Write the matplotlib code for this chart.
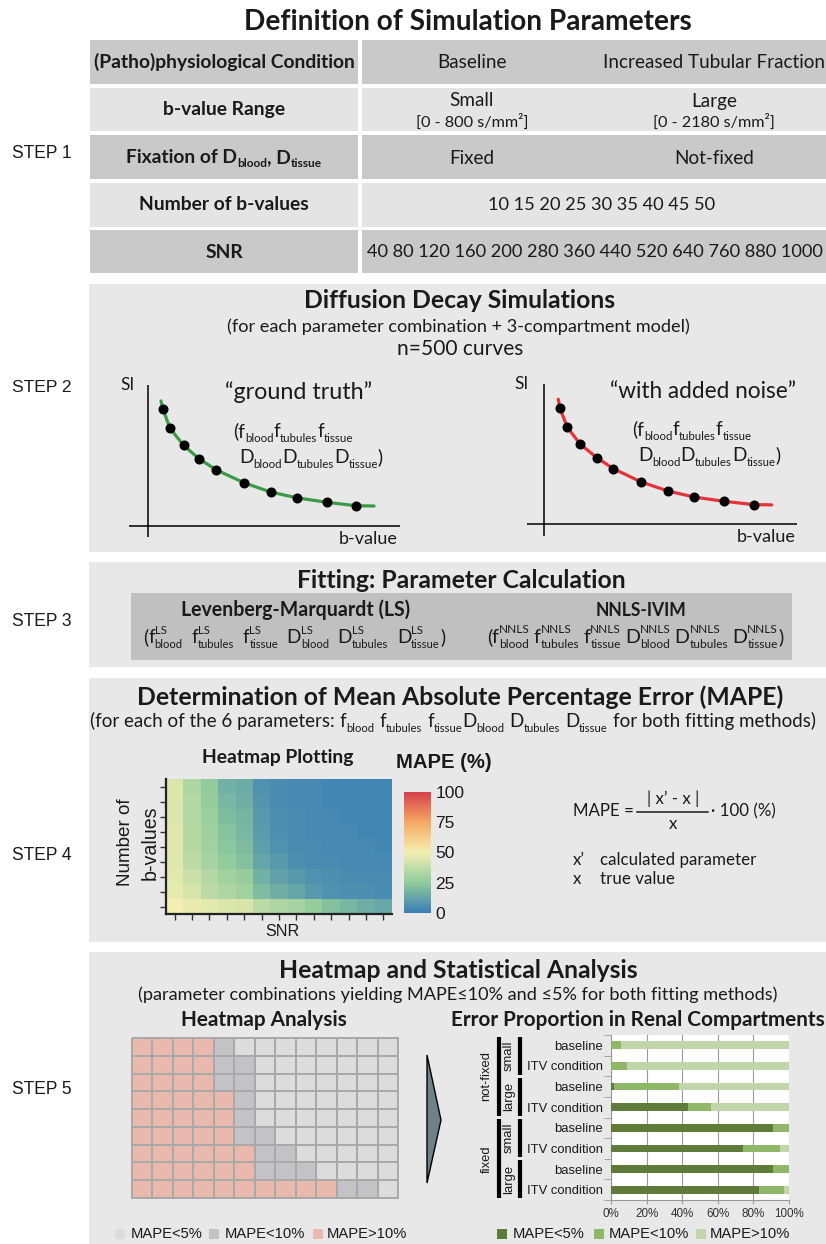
import matplotlib
matplotlib.use("Agg")
import matplotlib.pyplot as plt
import matplotlib.patches as mpatches
import matplotlib.transforms as mtransforms
from matplotlib.colors import LinearSegmentedColormap, ListedColormap
import numpy as np

plt.rcParams['font.family'] = ['Lato', 'DejaVu Sans']

# ------------------------------------------------------------------ data
conditions = ['Baseline', 'Increased Tubular Fraction']
bvalue_ranges = ['Small', 'Large']
bvalue_limits = ['[0 - 800 s/mm²]', '[0 - 2180 s/mm²]']
fixations = ['Fixed', 'Not-fixed']
n_bvalues = [10, 15, 20, 25, 30, 35, 40, 45, 50]
snr_values = [40, 80, 120, 160, 200, 280, 360, 440, 520, 640, 760, 880, 1000]

# decay curves (arbitrary units)
gt_b = [6.0, 8.8, 14.2, 20.4, 27.2, 38.4, 49.0, 59.4, 71.4, 83.2]
gt_si = [93.4, 78.2, 64.6, 53.8, 45.0, 34.6, 27.2, 22.6, 19.0, 16.2]
gt_curve_b = [5.2] + gt_b + [90.4]
gt_curve_si = [100.0] + gt_si + [16.0]
noisy_b = [6.3, 9.2, 14.4, 21.0, 27.6, 38.8, 49.5, 59.8, 71.8, 83.8]
noisy_si = [92.8, 77.6, 64.0, 53.3, 44.5, 33.8, 26.6, 21.8, 18.4, 15.7]
noisy_curve_b = [5.6] + noisy_b + [91.0]
noisy_curve_si = [100.0] + noisy_si + [15.5]

params = [('f', 'blood'), ('f', 'tubules'), ('f', 'tissue'),
          ('D', 'blood'), ('D', 'tubules'), ('D', 'tissue')]

# example MAPE heatmap (%), rows = number of b-values 10..50, cols = SNR
mape_b10 = [50, 48, 46, 44, 43, 36, 33, 31, 27, 22, 19, 16, 14]
mape_b15 = [47, 43, 36, 33, 30, 21, 16, 13, 9, 7, 6, 6, 5]
mape_b20 = [46, 40, 34, 30, 27, 17, 12, 9, 7, 6, 5, 5, 5]
mape_b25 = [45, 36, 31, 26, 22, 13, 9, 6, 5, 5, 4, 4, 4]
mape_b30 = [45, 35, 30, 24, 20, 11, 7, 5, 5, 4, 4, 4, 3]
mape_b35 = [45, 35, 29, 23, 19, 10, 6, 5, 4, 4, 4, 3, 3]
mape_b40 = [44, 34, 28, 21, 18, 9, 6, 5, 4, 4, 3, 3, 3]
mape_b45 = [44, 34, 27, 19, 16, 8, 5, 4, 4, 3, 3, 3, 3]
mape_b50 = [44, 33, 26, 17, 15, 7, 5, 4, 4, 3, 3, 3, 3]

# heatmap analysis classes (0: MAPE<5%, 1: MAPE<10%, 2: MAPE>10%), rows top (50) -> bottom (10)
class_labels = ['MAPE<5%', 'MAPE<10%', 'MAPE>10%']
cls_b50 = [2, 2, 2, 2, 1, 0, 0, 0, 0, 0, 0, 0, 0]
cls_b45 = [2, 2, 2, 2, 1, 1, 0, 0, 0, 0, 0, 0, 0]
cls_b40 = [2, 2, 2, 2, 1, 1, 0, 0, 0, 0, 0, 0, 0]
cls_b35 = [2, 2, 2, 2, 2, 1, 0, 0, 0, 0, 0, 0, 0]
cls_b30 = [2, 2, 2, 2, 2, 1, 0, 0, 0, 0, 0, 0, 0]
cls_b25 = [2, 2, 2, 2, 2, 1, 1, 0, 0, 0, 0, 0, 0]
cls_b20 = [2, 2, 2, 2, 2, 2, 1, 1, 0, 0, 0, 0, 0]
cls_b15 = [2, 2, 2, 2, 2, 2, 1, 1, 1, 0, 0, 0, 0]
cls_b10 = [2, 2, 2, 2, 2, 2, 2, 2, 2, 2, 1, 1, 0]

# error proportion bar chart (%)
bar_labels = ['baseline', 'ITV condition'] * 4
pct_lt5 = [0.0, 0.0, 1.9, 43.0, 91.0, 74.0, 91.0, 83.0]
pct_lt10 = [5.8, 9.0, 36.1, 13.0, 9.0, 21.0, 9.0, 14.0]
pct_gt10 = [94.2, 91.0, 62.0, 44.0, 0.0, 5.0, 0.0, 3.0]
outer_groups = [('not-fixed', 0, 3), ('fixed', 4, 7)]
inner_groups = [('small', 0, 1), ('large', 2, 3), ('small', 4, 5), ('large', 6, 7)]

# ------------------------------------------------------------------ style
W, H = 826, 1244
TXT = '#1a1a1a'
BOX = '#e8e8e8'
DARK_ROW = '#c9c9c9'
LIGHT_ROW = '#e4e4e4'
INNER = '#c0c0c0'
GRID_COLORS = ['#dcdcdc', '#c3c3c7', '#e9b9ad']
BAR_COLORS = ['#5e7b3a', '#8eb767', '#c0d6aa']
ARIAL = ['Liberation Sans', 'DejaVu Sans']
LATO = ['Lato', 'DejaVu Sans']
PT2PX = 100 / 72

fig = plt.figure(figsize=(W / 100, H / 100), dpi=100)
fig.patch.set_facecolor('white')
bg = fig.add_axes([0, 0, 1, 1])
bg.set_xlim(0, W)
bg.set_ylim(H, 0)
bg.axis('off')
renderer = fig.canvas.get_renderer()


def box(x0, y0, x1, y1, color):
    bg.add_patch(mpatches.Rectangle((x0, y0), x1 - x0, y1 - y0, facecolor=color,
                                    edgecolor='none', zorder=0))


def px_axes(x0, y0, x1, y1):
    return fig.add_axes([x0 / W, 1 - y1 / H, (x1 - x0) / W, (y1 - y0) / H])


def T(x, y, s, size=12, ha='center', va='center', weight='normal', family=None,
      width=None, color=TXT, rotation=0):
    t = bg.text(x, y, s, fontsize=size, ha=ha, va=va, fontweight=weight, color=color,
                rotation=rotation, family=family or LATO)
    if width is not None:
        bb = t.get_window_extent(renderer)
        ext = bb.height if rotation in (90, 270) else bb.width
        t.set_fontsize(size * width / ext)
    return t


def measure(s, size, weight, family):
    t = bg.text(0, 0, s, fontsize=size, fontweight=weight, family=family)
    w = t.get_window_extent(renderer).width
    t.remove()
    return w


def rich(x, base_y, pieces, size, ha='left', weight='normal', family=None, width=None,
         subscale=0.6, sub_dy=0.24, sup_dy=0.45, color=TXT, sub_weight=None):
    fam = family or LATO
    sw = sub_weight or weight

    def run(sz, x0, draw):
        em = sz * PT2PX
        ssz = sz * subscale
        cur = 0.0
        for p in pieces:
            kind = p[0]
            if kind == 'g':
                cur += p[1] * em
            elif kind == 't':
                if draw:
                    bg.text(x0 + cur, base_y, p[1], fontsize=sz, fontweight=weight,
                            family=fam, ha='left', va='baseline', color=color)
                cur += measure(p[1], sz, weight, fam)
            elif kind == 'sub':
                if draw:
                    bg.text(x0 + cur, base_y + sub_dy * em, p[1], fontsize=ssz,
                            fontweight=sw, family=fam, ha='left', va='baseline', color=color)
                cur += measure(p[1], ssz, sw, fam)
            elif kind == 'ss':
                if draw:
                    bg.text(x0 + cur, base_y - sup_dy * em, p[1], fontsize=ssz,
                            fontweight=sw, family=fam, ha='left', va='baseline', color=color)
                    bg.text(x0 + cur, base_y + sub_dy * em, p[2], fontsize=ssz,
                            fontweight=sw, family=fam, ha='left', va='baseline', color=color)
                cur += max(measure(p[1], ssz, sw, fam), measure(p[2], ssz, sw, fam))
        return cur

    total = run(size, 0, False)
    if width is not None:
        size = size * width / total
        total = run(size, 0, False)
    x0 = x - total / 2 if ha == 'center' else x
    run(size, x0, True)
    return size


# ------------------------------------------------------------------ step labels
for i, y in enumerate([154, 388, 622, 855, 1090]):
    T(12, y, f'STEP {i + 1}', size=12, ha='left', family=ARIAL, width=60)

# ------------------------------------------------------------------ section titles
T(468, 22, 'Definition of Simulation Parameters', size=16, weight='bold', width=450)
TITLE = T(460, 697, 'Determination of Mean Absolute Percentage Error (MAPE)', size=16,
          weight='bold', width=650).get_fontsize()

# ------------------------------------------------------------------ STEP 1 table
rows = [(40, 84), (88, 131), (135, 179), (183, 227), (230, 273)]
for k, (y0, y1) in enumerate(rows):
    c = DARK_ROW if k % 2 == 0 else LIGHT_ROW
    box(90, y0, 358, y1, c)
    box(362, y0, 826, y1, c)

TS = T(224, 62, '(Patho)physiological Condition', size=12.5, weight='bold',
       width=262).get_fontsize()
T(224, 109, 'b-value Range', size=TS, weight='bold')
rich(224, 163, [('t', 'Fixation of D'), ('sub', 'blood'), ('t', ', D'), ('sub', 'tissue')],
     size=TS, ha='center', weight='bold', subscale=0.62, sub_dy=0.2)
T(224, 205, 'Number of b-values', size=TS, weight='bold')
T(224, 252, 'SNR', size=TS, weight='bold')

col_x = [472, 714]
VS = T(col_x[1], 62, conditions[1], size=12.5, width=222).get_fontsize()
T(col_x[0], 62, conditions[0], size=VS)
BS = T(col_x[1], 122, bvalue_limits[1], size=10, width=122).get_fontsize()
T(col_x[0], 122, bvalue_limits[0], size=BS)
for i in range(2):
    T(col_x[i], 101, bvalue_ranges[i], size=VS)
    T(col_x[i], 158, fixations[i], size=VS)
T(602, 205, ' '.join(str(v) for v in n_bvalues), size=VS, width=229)
T(595, 252, ' '.join(str(v) for v in snr_values), size=VS, width=460)

# ------------------------------------------------------------------ STEP 2
box(89, 284, 826, 552, BOX)
T(460, 300, 'Diffusion Decay Simulations', size=TITLE, weight='bold')
SUB = T(458, 327, '(for each parameter combination + 3-compartment model)', size=10,
        width=466).get_fontsize()
T(460, 349, 'n=500 curves', size=13, width=126)

f_pieces = [('t', '(f'), ('sub', 'blood'), ('t', 'f'), ('sub', 'tubules'),
            ('t', 'f'), ('sub', 'tissue')]
d_pieces = [('t', 'D'), ('sub', 'blood'), ('t', 'D'), ('sub', 'tubules'),
            ('t', 'D'), ('sub', 'tissue'), ('t', ')')]

panels = [
    dict(ax=(129, 385, 400, 537), xlim=(-7.6, 100.8), ylim=(-8.8, 112.8),
         cb=gt_curve_b, cs=gt_curve_si, pb=gt_b, ps=gt_si, color='#3a9a47',
         title='\u201cground truth\u201d', tx=299, tw=148, fx=233, dx=239, dw=143,
         fy=437, dy=463, si=(128, 385), bv=(368, 539)),
    dict(ax=(527, 384, 797, 536), xlim=(-6.9, 101.1), ylim=(-9.4, 112.2),
         cb=noisy_curve_b, cs=noisy_curve_si, pb=noisy_b, ps=noisy_si, color='#e3343a',
         title='\u201cwith added noise\u201d', tx=703, tw=187, fx=632, dx=638, dw=142,
         fy=435, dy=461, si=(522, 384), bv=(766, 537)),
]
for p in panels:
    ax = px_axes(*p['ax'])
    ax.set_facecolor('none')
    ax.set_xlim(*p['xlim'])
    ax.set_ylim(*p['ylim'])
    ax.axis('off')
    ax.axhline(0, color='black', lw=1.1)
    ax.axvline(0, color='black', lw=1.1)
    ax.plot(p['cb'], p['cs'], color=p['color'], lw=2.3, solid_capstyle='round')
    ax.plot(p['pb'], p['ps'], 'o', color='black', ms=6.2)
    T(p['tx'], 392, p['title'], size=16, width=p['tw'])
    fs = rich(p['dx'], p['dy'], d_pieces, size=14, width=p['dw'])
    rich(p['fx'], p['fy'], f_pieces, size=fs)
    T(p['si'][0], p['si'][1], 'SI', size=12.5)
    T(p['bv'][0], p['bv'][1], 'b-value', size=13)

# ------------------------------------------------------------------ STEP 3
box(89, 562, 826, 667, BOX)
T(461, 580, 'Fitting: Parameter Calculation', size=TITLE, weight='bold')
box(131, 593, 792, 660, INNER)
T(296, 610, 'Levenberg-Marquardt (LS)', size=14, weight='bold', width=230)
T(641, 610, 'NNLS-IVIM', size=14, weight='bold', width=92)


def fit_pieces(sup, gap):
    out = [('t', '(')]
    for k, (p, s) in enumerate(params):
        out += [('t', p), ('ss', sup, s)]
        if k < len(params) - 1:
            out.append(('g', gap))
    out.append(('t', ')'))
    return out


rich(294, 643, fit_pieces('LS', 0.45), size=14, ha='center', width=302, sup_dy=0.5)
rich(635, 643, fit_pieces('NNLS', 0.2), size=14, ha='center', width=296, sup_dy=0.5)

# ------------------------------------------------------------------ STEP 4
box(89, 678, 826, 942, BOX)
sub4 = [('t', '(for each of the 6 parameters:'), ('g', 0.25)]
for k, (p, s) in enumerate(params):
    sub4 += [('t', p), ('sub', s)]
    if k != 2:
        sub4.append(('g', 0.25))
sub4.append(('t', 'for both fitting methods)'))
rich(453, 727, sub4, size=SUB, ha='center', width=724)
T(278, 758, 'Heatmap Plotting', size=13, weight='bold', width=152)
T(444, 763, 'MAPE (%)', size=15, weight='bold', family=ARIAL, width=96)

cmap = LinearSegmentedColormap.from_list(
    'mape', [(0.0, '#3a7db6'), (0.25, '#8fcb9c'), (0.5, '#f3efb2'),
             (0.75, '#f5a964'), (1.0, '#d6404a')])
mape = np.array([mape_b10, mape_b15, mape_b20, mape_b25, mape_b30,
                 mape_b35, mape_b40, mape_b45, mape_b50])
axh = px_axes(166, 779, 392, 914)
im = axh.imshow(mape, cmap=cmap, vmin=0, vmax=100, origin='lower', aspect='auto',
                interpolation='nearest')
axh.set_xticks(range(len(snr_values)))
axh.set_yticks(range(len(n_bvalues)))
axh.set_xticklabels([])
axh.set_yticklabels([])
axh.tick_params(length=4, width=1, color='#333333')
for s in ['top', 'right']:
    axh.spines[s].set_visible(False)
for s in ['left', 'bottom']:
    axh.spines[s].set_linewidth(1.6)
    axh.spines[s].set_color('#222222')

axc = px_axes(404, 792, 431, 913)
cb = fig.colorbar(im, cax=axc, ticks=[0, 25, 50, 75, 100])
cb.outline.set_visible(False)
axc.tick_params(length=0, pad=3, labelsize=12.5, labelcolor=TXT)
for lab in axc.get_yticklabels():
    lab.set_family(ARIAL)

T(125, 842, 'Number of', size=13, family=ARIAL, rotation=90, width=88)
T(150, 843, 'b-values', size=13, family=ARIAL, rotation=90, width=74)
T(282, 931, 'SNR', size=13, family=ARIAL, width=34)

FS = 12.2
T(573, 811, 'MAPE =', size=FS, ha='left')
T(673, 799, '| x\u2019 - x |', size=FS)
bg.plot([637, 708], [812, 812], color=TXT, lw=1.1)
T(673, 824, 'x', size=FS)
T(711, 811, '\u00b7 100 (%)', size=FS, ha='left')
T(573, 860, 'x\u2019', size=FS, ha='left')
T(600, 860, 'calculated parameter', size=FS, ha='left')
T(573, 879, 'x', size=FS, ha='left')
T(600, 879, 'true value', size=FS, ha='left')

# ------------------------------------------------------------------ STEP 5
box(89, 952, 826, 1244, BOX)
T(458, 970, 'Heatmap and Statistical Analysis', size=TITLE, weight='bold')
T(458, 995, '(parameter combinations yielding MAPE\u226410% and \u22645% for both fitting methods)',
  size=SUB)
ES = T(638, 1020, 'Error Proportion in Renal Compartments', size=13, weight='bold',
       width=374).get_fontsize()
T(264, 1020, 'Heatmap Analysis', size=ES, weight='bold')

classes = np.array([cls_b50, cls_b45, cls_b40, cls_b35, cls_b30,
                    cls_b25, cls_b20, cls_b15, cls_b10])
axg = px_axes(132, 1038, 398, 1198)
pcm = axg.pcolormesh(classes, cmap=ListedColormap(GRID_COLORS), vmin=-0.5, vmax=2.5,
                     edgecolors='#a9a9a9', linewidth=1.2)
pcm.set_clip_on(False)
axg.set_xlim(0, classes.shape[1])
axg.set_ylim(classes.shape[0], 0)
axg.axis('off')

bg.add_patch(mpatches.Polygon([(427, 1055), (441, 1120), (427, 1183)], closed=True,
                              facecolor='#6f8189', edgecolor='black', lw=1.0))

axb = px_axes(611, 1035, 789, 1200)
ypos = np.arange(len(bar_labels))
left3 = [a + b for a, b in zip(pct_lt5, pct_lt10)]
axb.barh(ypos, pct_lt5, height=0.38, color=BAR_COLORS[0], zorder=3)
axb.barh(ypos, pct_lt10, left=pct_lt5, height=0.38, color=BAR_COLORS[1], zorder=3)
axb.barh(ypos, pct_gt10, left=left3, height=0.38, color=BAR_COLORS[2], zorder=3)
axb.set_xlim(0, 100)
axb.set_ylim(len(bar_labels) - 0.5, -0.5)
axb.set_xticks([0, 20, 40, 60, 80, 100])
axb.set_xticklabels(['0%', '20%', '40%', '60%', '80%', '100%'], family=ARIAL,
                    fontsize=8.4, color='#333333')
axb.set_yticks(ypos)
axb.set_yticklabels(bar_labels, family=ARIAL, fontsize=9.4, color=TXT)
axb.set_yticks(np.arange(len(bar_labels) + 1) - 0.5, minor=True)
axb.tick_params(axis='y', which='major', length=0, pad=6)
axb.tick_params(axis='y', which='minor', length=5, color='#999999')
axb.tick_params(axis='x', length=3, color='#999999', pad=3)
axb.grid(axis='x', color='#9a9a9a', lw=0.8, zorder=0)
for s in ['top', 'right']:
    axb.spines[s].set_visible(False)
for s in ['left', 'bottom']:
    axb.spines[s].set_color('#999999')
    axb.spines[s].set_linewidth(0.8)

tr = mtransforms.blended_transform_factory(axb.transAxes, axb.transData)
for name, a, b in outer_groups:
    axb.plot([-0.629, -0.629], [a - 0.42, b + 0.42], transform=tr, color='black',
             lw=3.0, solid_capstyle='butt', clip_on=False)
    axb.text(-0.70, (a + b) / 2, name, transform=tr, rotation=90, ha='center',
             va='center', family=ARIAL, fontsize=9.4, color=TXT)
for name, a, b in inner_groups:
    axb.plot([-0.511, -0.511], [a - 0.42, b + 0.42], transform=tr, color='black',
             lw=3.0, solid_capstyle='butt', clip_on=False)
    axb.text(-0.573, (a + b) / 2, name, transform=tr, rotation=90, ha='center',
             va='center', family=ARIAL, fontsize=9.4, color=TXT)

# legends
LS_ = T(225, 1234, class_labels[1], size=10, ha='left', family=ARIAL, width=80).get_fontsize()
leg_left = [(115, 131), (209, 225), (313, 327)]
leg_right = [(497, 513), (594, 609), (696, 710)]
for k, ((sx, tx), c, lab) in enumerate(zip(leg_left, GRID_COLORS, class_labels)):
    box(sx, 1229, sx + 10, 1239, c)
    if k != 1:
        T(tx, 1234, lab, size=LS_, ha='left', family=ARIAL)
for (sx, tx), c, lab in zip(leg_right, BAR_COLORS, class_labels):
    box(sx, 1229, sx + 10, 1239, c)
    T(tx, 1234, lab, size=LS_, ha='left', family=ARIAL)

fig.savefig('out.png', dpi=100, facecolor='white')
